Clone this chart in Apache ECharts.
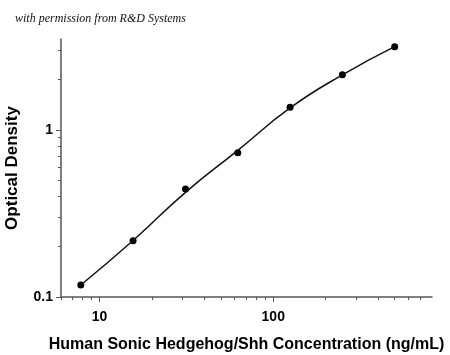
<!DOCTYPE html>
<html>
<head>
<meta charset="utf-8">
<script src="https://cdn.jsdelivr.net/npm/echarts@6/dist/echarts.min.js"></script>
<style>
html, body { margin: 0; padding: 0; background: #fff; }
#chart { width: 450px; height: 355px; }
</style>
</head>
<body>
<div id="chart"></div>
<script>
// 标准曲线数据
var conc = [7.8, 15.6, 31.25, 62.5, 125, 250, 500] // ng/mL
var od = [0.118, 0.217, 0.443, 0.731, 1.367, 2.14, 3.15] // 测量点
var fitOd = [0.118, 0.218, 0.423, 0.754, 1.354, 2.135, 3.15] // 拟合曲线
// 刻度
var xMajorTicks = [10, 100]
var xMinorTicks = [6, 7, 8, 9, 20, 30, 40, 50, 60, 70, 80, 90, 200, 300, 400, 500, 600, 700]
var yMajorTicks = [0.1, 1]
var yMinorTicks = [0.2, 0.3, 0.4, 0.5, 0.6, 0.7, 0.8, 0.9, 2, 3]

var xMin = 6, xMax = 820
var yMin = 0.1, yMax = 3.5

var boldFont = 'Liberation Sans'
var axisColor = '#555'

function fmt(v) {
	return String(v)
}

var option = {
	animation: false,
	title: {
		text: 'with permission from R&D Systems',
		left: 10,
		top: 8,
		textStyle: {
			fontFamily: 'Liberation Serif',
			fontStyle: 'italic',
			fontWeight: 'normal',
			fontSize: 12,
			color: '#111'
		}
	},
	grid: {
		left: 61,
		right: 18,
		top: 39,
		bottom: 58,
		outerBoundsMode: 'none'
	},
	xAxis: [{
		type: 'log',
		min: xMin,
		max: xMax,
		name: 'Human Sonic Hedgehog/Shh Concentration (ng/mL)',
		nameLocation: 'middle',
		nameGap: 40,
		nameTextStyle: { fontFamily: boldFont, fontWeight: 'bold', fontSize: 16, color: '#000' },
		axisLine: { lineStyle: { color: axisColor, width: 1.5 } },
		axisTick: { customValues: xMajorTicks, length: 5, lineStyle: { color: axisColor } },
		axisLabel: { customValues: xMajorTicks, formatter: fmt, margin: 13, fontFamily: boldFont, fontWeight: 'bold', fontSize: 14, color: '#000' },
		splitLine: { show: false }
	}, {
		type: 'log',
		min: xMin,
		max: xMax,
		position: 'bottom',
		axisLine: { show: false },
		axisTick: { customValues: xMinorTicks, length: 3, lineStyle: { color: axisColor } },
		axisLabel: { show: false },
		splitLine: { show: false }
	}],
	yAxis: [{
		type: 'log',
		min: yMin,
		max: yMax,
		name: 'Optical Density',
		nameLocation: 'middle',
		nameGap: 40,
		nameTextStyle: { fontFamily: boldFont, fontWeight: 'bold', fontSize: 17, color: '#000' },
		axisLine: { show: true, lineStyle: { color: axisColor, width: 1.5 } },
		axisTick: { show: true, customValues: yMajorTicks, length: 5, lineStyle: { color: axisColor } },
		axisLabel: { customValues: yMajorTicks, formatter: fmt, margin: 8, fontFamily: boldFont, fontWeight: 'bold', fontSize: 14, color: '#000' },
		splitLine: { show: false }
	}, {
		type: 'log',
		min: yMin,
		max: yMax,
		position: 'left',
		axisLine: { show: false },
		axisTick: { show: true, customValues: yMinorTicks, length: 3, lineStyle: { color: axisColor } },
		axisLabel: { show: false },
		splitLine: { show: false }
	}],
	series: [{
		// 拟合曲线
		type: 'line',
		xAxisIndex: 0,
		yAxisIndex: 0,
		data: conc.map(function(c, i) { return [c, fitOd[i]] }),
		smooth: 0.5,
		showSymbol: false,
		lineStyle: { color: '#111', width: 1.5 }
	}, {
		// 测量点
		type: 'scatter',
		xAxisIndex: 0,
		yAxisIndex: 0,
		data: conc.map(function(c, i) { return [c, od[i]] }),
		symbol: 'circle',
		symbolSize: 7,
		itemStyle: { color: '#000', opacity: 1 }
	}]
}

var myChart = echarts.init(document.getElementById('chart'))
myChart.setOption(option)
</script>
</body>
</html>
